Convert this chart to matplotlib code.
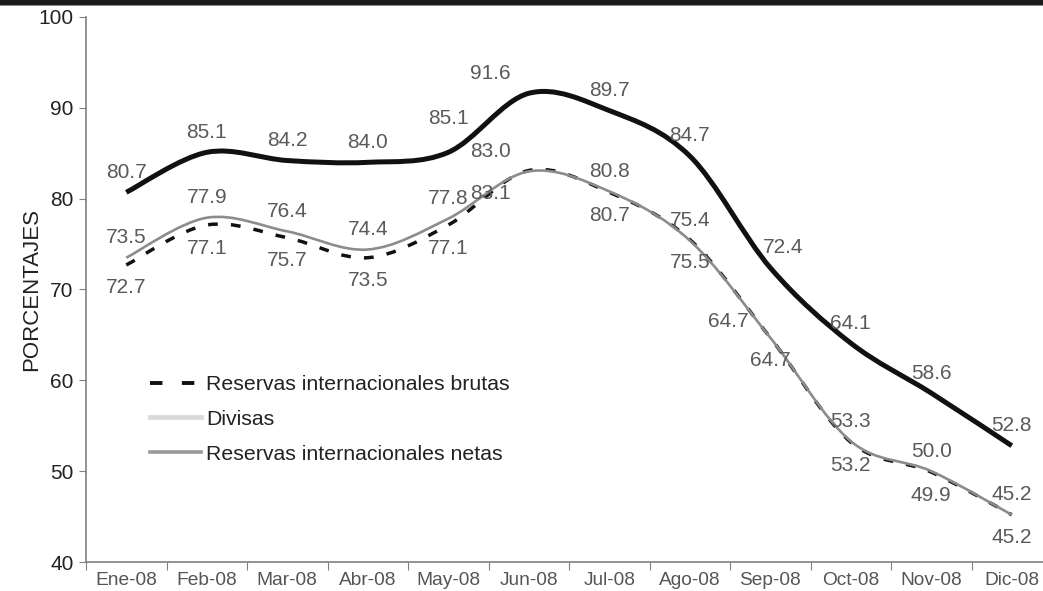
import numpy as np
import matplotlib
matplotlib.use('Agg')
import matplotlib.pyplot as plt
from matplotlib.path import Path
from matplotlib.patches import PathPatch, Rectangle
from matplotlib.lines import Line2D

plt.rcParams['font.family'] = ['Liberation Sans', 'DejaVu Sans']

# datos (porcentajes)
meses = ['Ene-08', 'Feb-08', 'Mar-08', 'Abr-08', 'May-08', 'Jun-08',
         'Jul-08', 'Ago-08', 'Sep-08', 'Oct-08', 'Nov-08', 'Dic-08']
divisas = [80.7, 85.1, 84.2, 84.0, 85.1, 91.6, 89.7, 84.7, 72.4, 64.1, 58.6, 52.8]
netas = [73.5, 77.9, 76.4, 74.4, 77.8, 83.0, 80.8, 75.4, 64.7, 53.3, 50.0, 45.2]
brutas = [72.7, 77.1, 75.7, 73.5, 77.1, 83.1, 80.7, 75.5, 64.7, 53.2, 49.9, 45.2]


def curva_suave(x, y):
    # linea suavizada tipo Excel (bezier Catmull-Rom)
    pts = np.column_stack([x, y]).astype(float)
    n = len(pts)
    verts = [pts[0]]
    codes = [Path.MOVETO]
    for i in range(n - 1):
        p0 = pts[i - 1] if i > 0 else pts[i]
        p1 = pts[i]
        p2 = pts[i + 1]
        p3 = pts[i + 2] if i + 2 < n else pts[i + 1]
        verts += [p1 + (p2 - p0) / 6, p2 - (p3 - p1) / 6, p2]
        codes += [Path.CURVE4] * 3
    return Path(verts, codes)


fig = plt.figure(figsize=(10.43, 5.91), dpi=100)
ax = fig.add_axes([86 / 1043, 29 / 591, 966 / 1043, 545 / 591])

x = np.arange(len(meses))

ax.add_patch(PathPatch(curva_suave(x, divisas), fill=False, color='#111111',
                       lw=3.6, capstyle='butt'))
ax.add_patch(PathPatch(curva_suave(x, brutas), fill=False, color='#111111',
                       lw=2.5, linestyle=(0, (2.8, 3.8)), capstyle='butt'))
ax.add_patch(PathPatch(curva_suave(x, netas), fill=False, color='#8c8c8c',
                       lw=1.9))

# etiquetas de datos (desplazamientos en pixeles)
col_txt = '#5a5a5a'
fs_lab = 15
for i, v in enumerate(divisas):
    dx, dy = 0, 20
    if i == 4:
        dy = 34
    if i == 5:
        dx = -38
    if i == 8:
        dx = 13
    ax.annotate(f'{v:.1f}', (i, v), xytext=(dx, dy), textcoords='offset pixels',
                ha='center', va='center', fontsize=fs_lab, color=col_txt)
for i, v in enumerate(netas):
    dx, dy = 0, 20
    if i == 5:
        dx = -38
    if i == 8:
        dx, dy = -42, 16
    ax.annotate(f'{v:.1f}', (i, v), xytext=(dx, dy), textcoords='offset pixels',
                ha='center', va='center', fontsize=fs_lab, color=col_txt)
for i, v in enumerate(brutas):
    dx, dy = 0, -23
    if i == 5:
        dx = -38
    ax.annotate(f'{v:.1f}', (i, v), xytext=(dx, dy), textcoords='offset pixels',
                ha='center', va='center', fontsize=fs_lab, color=col_txt)

ax.set_xlim(-0.5, 11.5)
ax.set_ylim(40, 100)
ax.set_yticks(range(40, 101, 10))
ax.set_xticks(np.arange(-0.5, 12, 1))
ax.set_xticklabels([])
ax.set_xticks(x, minor=True)
ax.set_xticklabels(meses, minor=True)

ax.tick_params(axis='x', which='major', length=6, color='#808080', direction='out')
ax.tick_params(axis='x', which='minor', length=0, pad=7, labelsize=13.8,
               labelcolor='#555555')
ax.tick_params(axis='y', length=5, color='#808080', labelsize=15,
               labelcolor='#222222', pad=4)

for s in ['top', 'right']:
    ax.spines[s].set_visible(False)
for s in ['left', 'bottom']:
    ax.spines[s].set_color('#808080')
    ax.spines[s].set_linewidth(1.2)

ax.set_ylabel('PORCENTAJES', fontsize=16, color='#222222')
ax.yaxis.set_label_coords(-44 / 966, 0.5)

handles = [
    Line2D([], [], color='#111111', lw=2.8, linestyle=(0, (3.2, 5.0))),
    Line2D([], [], color='#d9d9d9', lw=3.4),
    Line2D([], [], color='#999999', lw=2.6),
]
etiquetas = ['Reservas internacionales brutas', 'Divisas',
             'Reservas internacionales netas']
ax.legend(handles, etiquetas, loc='upper left', bbox_to_anchor=(0.066, 0.343),
          frameon=False, fontsize=15.3, handlelength=2.4, handletextpad=0.25,
          labelspacing=0.74, borderpad=0, borderaxespad=0,
          labelcolor='#222222')

# franja negra superior
fig.add_artist(Rectangle((0, 1 - 5 / 591), 1, 5 / 591, transform=fig.transFigure,
                         color='#1a1a1a', lw=0))
fig.add_artist(Rectangle((0, 1 - 6 / 591), 1, 1 / 591, transform=fig.transFigure,
                         color='#888888', lw=0))

fig.savefig('out.png', dpi=100)
